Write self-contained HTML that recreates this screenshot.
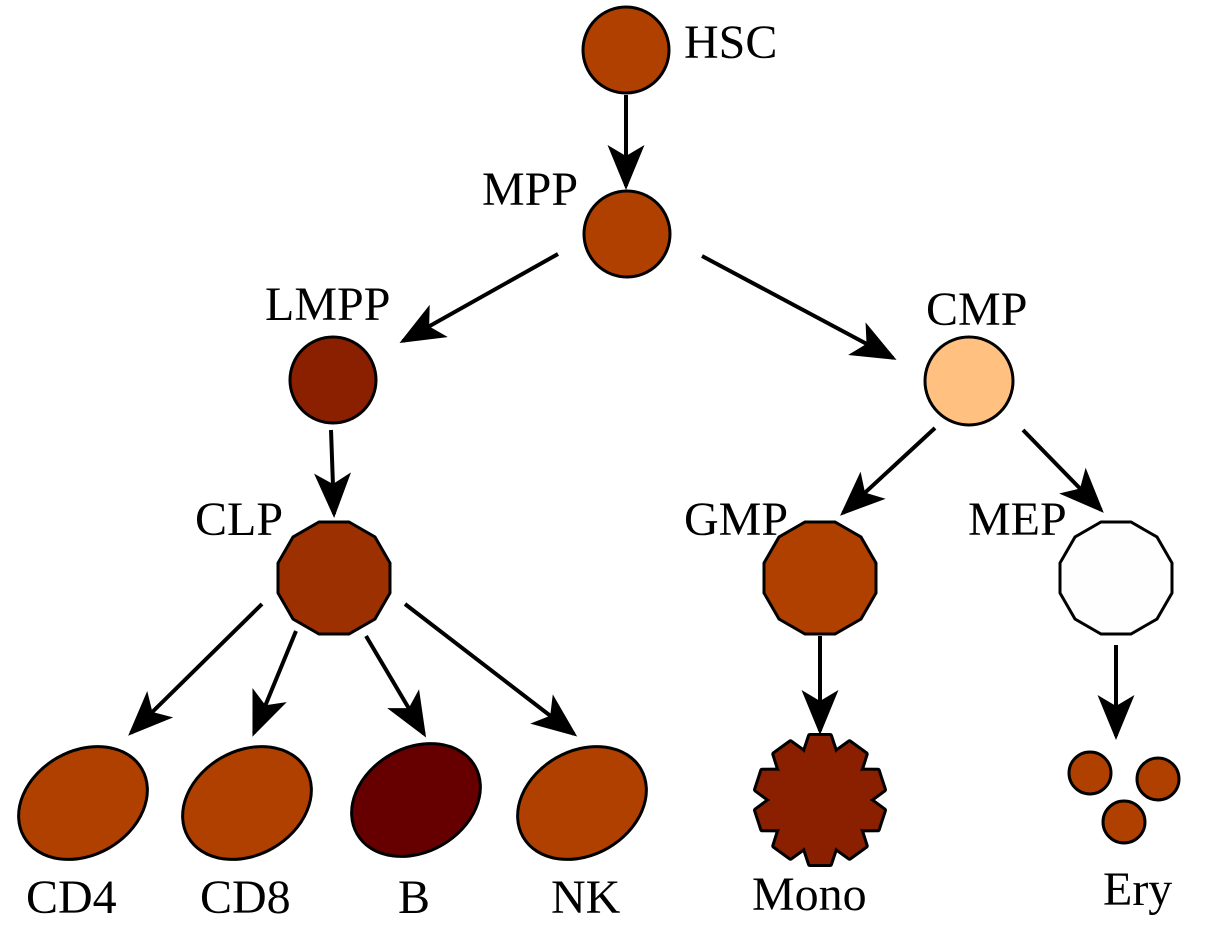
<!DOCTYPE html>
<html><head><meta charset="utf-8"><style>
html,body{margin:0;padding:0;background:#fff}
svg{display:block}
text{font-family:"Liberation Serif",serif;font-size:48px;fill:#000}
</style></head><body>
<svg width="1206" height="930" viewBox="0 0 1206 930" xmlns="http://www.w3.org/2000/svg" xmlns:xlink="http://www.w3.org/1999/xlink">
<defs>
<marker id="a" markerWidth="48" markerHeight="40" refX="41" refY="18.5" orient="auto" markerUnits="userSpaceOnUse">
<path d="M0,0 L45,18.5 L0,37 L11,18.5 z" fill="#000"/>
</marker>
<g id="gr">
<circle cx="0" cy="0" r="50"/>
<g id="t"><polygon points="-15,-40 -15,-49 -10,-64 10,-64 15,-49 15,-40"/></g>
<use xlink:href="#t" transform="rotate(36)"/>
<use xlink:href="#t" transform="rotate(72)"/>
<use xlink:href="#t" transform="rotate(108)"/>
<use xlink:href="#t" transform="rotate(144)"/>
<use xlink:href="#t" transform="rotate(180)"/>
<use xlink:href="#t" transform="rotate(216)"/>
<use xlink:href="#t" transform="rotate(252)"/>
<use xlink:href="#t" transform="rotate(288)"/>
<use xlink:href="#t" transform="rotate(324)"/>
</g>
</defs>
<g stroke="#000" stroke-width="4" marker-end="url(#a)">
<line x1="626" y1="95" x2="626" y2="186"/>
<line x1="558" y1="254" x2="403" y2="341"/>
<line x1="702" y1="256" x2="893" y2="358"/>
<line x1="331" y1="430" x2="334" y2="514"/>
<line x1="935" y1="428" x2="843" y2="513"/>
<line x1="1023" y1="430" x2="1101" y2="510"/>
<line x1="262" y1="604" x2="131" y2="733"/>
<line x1="296" y1="631" x2="254" y2="733"/>
<line x1="366" y1="636" x2="424" y2="734"/>
<line x1="405" y1="604" x2="574" y2="734"/>
<line x1="820" y1="636" x2="820" y2="731"/>
<line x1="1116" y1="645" x2="1116" y2="736"/>
</g>
<g stroke="#000" stroke-width="3">
<circle cx="626" cy="50" r="43" fill="#b04000"/>
<circle cx="627" cy="234" r="43" fill="#b04000"/>
<circle cx="333" cy="380" r="43" fill="#8b2000"/>
<circle cx="969" cy="381" r="44" fill="#ffc080"/>
<polygon fill="#9c3000" points="390,593 375,619 349,634 319,634 293,619 278,593 278,563 293,537 319,522 349,522 375,537 390,563"/>
<polygon fill="#b04000" points="876,593 861,619 835,634 805,634 779,619 764,593 764,563 779,537 805,522 835,522 861,537 876,563"/>
<polygon fill="#fefefe" points="1172,593 1157,619 1131,634 1101,634 1075,619 1060,593 1060,563 1075,537 1101,522 1131,522 1157,537 1172,563"/>
<ellipse cx="83" cy="803" rx="68" ry="52" transform="rotate(-30 83 803)" fill="#b04000"/>
<ellipse cx="247" cy="803" rx="68" ry="52" transform="rotate(-30 247 803)" fill="#b04000"/>
<ellipse cx="416" cy="800" rx="68" ry="52" transform="rotate(-30 416 800)" fill="#660000"/>
<ellipse cx="582" cy="803" rx="68" ry="52" transform="rotate(-30 582 803)" fill="#b04000"/>
<circle cx="1090" cy="773" r="21" fill="#b04000"/>
<circle cx="1158" cy="779" r="21" fill="#b04000"/>
<circle cx="1124" cy="822" r="21" fill="#b04000"/>
</g>
<g transform="translate(820,800)">
<use xlink:href="#gr" fill="#000" stroke="#000" stroke-width="6" stroke-linejoin="round"/>
<use xlink:href="#gr" fill="#8b2000" stroke="none"/>
</g>
<text x="684" y="58">HSC</text>
<text x="482" y="205">MPP</text>
<text x="265" y="320">LMPP</text>
<text x="926" y="325">CMP</text>
<text x="195" y="535">CLP</text>
<text x="684" y="535">GMP</text>
<text x="968" y="535">MEP</text>
<text x="26" y="913">CD4</text>
<text x="200" y="913">CD8</text>
<text x="398" y="913">B</text>
<text x="551" y="913">NK</text>
<text x="752" y="910">Mono</text>
<text x="1103" y="905">Ery</text>
</svg>
</body></html>
